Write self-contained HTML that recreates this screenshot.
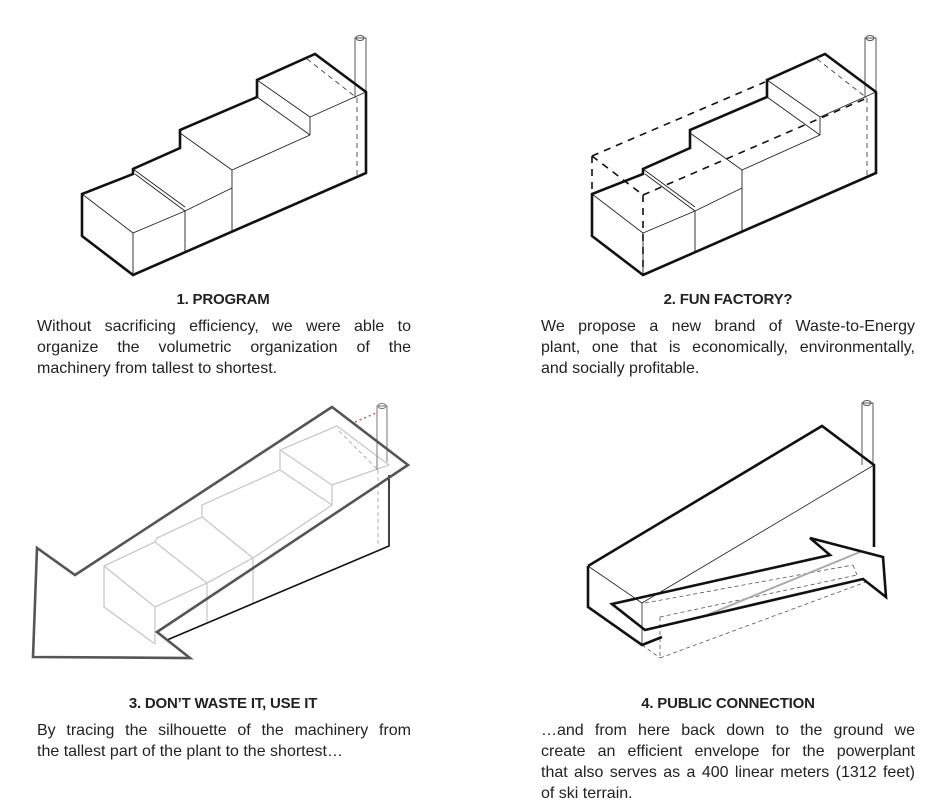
<!DOCTYPE html>
<html><head><meta charset="utf-8"><style>
body{margin:0;width:933px;height:804px;background:#fff;position:relative;overflow:hidden;font-family:"Liberation Sans",sans-serif;color:#222}
svg{position:absolute;left:0;top:0}
.t{position:absolute;font-weight:bold;font-size:15px;text-align:center;width:374px;letter-spacing:-0.2px}
.p{position:absolute;font-size:16px;line-height:21px;width:374px}
.p div{text-align:justify;text-align-last:justify;white-space:nowrap}
.p div.l{text-align-last:left}
</style></head><body>
<svg width="933" height="804" viewBox="0 0 933 804" fill="none" stroke-linejoin="miter">
<g id="b1">
<polyline points="355,98 355,38 366,38 366,92" stroke="#555" stroke-width="1"/>
<ellipse cx="360" cy="38" rx="4" ry="2.5" stroke="#555" stroke-width="1"/>
<g stroke="#222" stroke-width="0.9">
<polyline points="82,194 133,233 185,211 232,188"/>
<line x1="133" y1="233" x2="133" y2="275"/>
<line x1="133" y1="169" x2="185" y2="207"/>
<line x1="135" y1="174" x2="185" y2="211"/>
<line x1="185" y1="211" x2="185" y2="252"/>
<line x1="180" y1="133" x2="232" y2="170"/>
<line x1="232" y1="170" x2="232" y2="233"/>
<line x1="232" y1="170" x2="310" y2="135"/>
<line x1="257" y1="97" x2="310" y2="135"/>
<line x1="310" y1="135" x2="310" y2="117"/>
<line x1="310" y1="117" x2="366" y2="92"/>
<line x1="257" y1="80" x2="310" y2="117"/>
</g>
<g stroke="#444" stroke-width="0.9" stroke-dasharray="5,4">
<line x1="307" y1="59" x2="357" y2="98"/>
<line x1="357" y1="98" x2="357" y2="176"/>
</g>
<polygon points="82,194 82,236 133,275 366,173 366,92 315,54 257,80 257,97 180,130 180,148 133,169 133,174" stroke="#111" stroke-width="2.6"/>
</g>
<g transform="translate(510,0)"><use href="#b1"/></g>
<g stroke="#111" stroke-width="1.6" stroke-dasharray="7,6">
<line x1="592" y1="156" x2="765" y2="82"/>
<line x1="592" y1="156" x2="592" y2="194"/>
<line x1="592" y1="156" x2="643" y2="195"/>
<line x1="643" y1="195" x2="643" y2="275"/>
<line x1="643" y1="195" x2="867" y2="98"/>
</g>
<g stroke="#c8c8c8" stroke-width="1.3">
<polyline points="104,566 155,542 157,538 202,517 202,505 280,470 280,450 337,426 389,465"/>
<polyline points="104,566 104,607 155,644"/>
<polyline points="104,566 155,607 207,583 253,558 332,505 332,485 389,465"/>
<line x1="155" y1="607" x2="155" y2="644"/>
<line x1="207" y1="583" x2="207" y2="622"/>
<line x1="253" y1="558" x2="253" y2="603"/>
<line x1="155" y1="542" x2="207" y2="583"/>
<line x1="202" y1="517" x2="253" y2="558"/>
<line x1="280" y1="470" x2="332" y2="505"/>
<line x1="280" y1="450" x2="332" y2="485"/>
</g>
<g stroke="#aaa" stroke-width="0.9" stroke-dasharray="4,3"><line x1="339" y1="431" x2="378" y2="470"/><line x1="378" y1="470" x2="378" y2="546"/></g>
<polyline points="377,470 377,406 387,406 387,462" stroke="#777" stroke-width="1"/>
<ellipse cx="382" cy="406" rx="4" ry="2.5" stroke="#777"/>
<line x1="355" y1="422" x2="376" y2="413" stroke="#e05040" stroke-width="1.5" stroke-dasharray="2,3"/>
<polyline points="389,475 389,546 167,640" stroke="#111" stroke-width="1.6"/>
<polygon points="332,407 408,465 157,632 190,658 33,657 37,548 75,575" stroke="#555" stroke-width="2.6"/>
<polyline points="862,465 862,403 873,403 873,465" stroke="#555" stroke-width="1"/>
<ellipse cx="867" cy="403" rx="4" ry="2.5" stroke="#555"/>
<g stroke="#222" stroke-width="0.8">
<line x1="588" y1="566" x2="642" y2="603"/>
<line x1="642" y1="603" x2="642" y2="645"/>
<line x1="642" y1="603" x2="874" y2="465"/>
</g>
<g stroke="#555" stroke-width="0.8" stroke-dasharray="4,3">
<line x1="645" y1="603" x2="853" y2="565"/>
<line x1="660" y1="617" x2="857" y2="575"/>
<line x1="660" y1="617" x2="660" y2="658"/>
<line x1="642" y1="645" x2="660" y2="658"/>
<line x1="660" y1="658" x2="866" y2="582"/>
<line x1="853" y1="565" x2="857" y2="575"/>
</g>
<line x1="707" y1="615" x2="860" y2="552" stroke="#aaa" stroke-width="2"/>
<polyline points="588,566 822,426 874,465 874,547" stroke="#111" stroke-width="2.6"/>
<polyline points="588,566 588,607 642,645 662,637" stroke="#111" stroke-width="2.6"/>
<polygon points="612,604 830,555 810,538 883,557 886,597 863,579 645,630" stroke="#111" stroke-width="2.6"/>
</svg>
<div class="t" style="left:36px;top:291px">1. PROGRAM</div>
<div class="p" style="left:37px;top:316px"><div>Without sacrificing efficiency, we were able to</div><div>organize the volumetric organization of the</div><div class="l">machinery from tallest to shortest.</div></div>
<div class="t" style="left:541px;top:291px">2. FUN FACTORY?</div>
<div class="p" style="left:541px;top:316px"><div>We propose a new brand of Waste-to-Energy</div><div>plant, one that is economically, environmentally,</div><div class="l">and socially profitable.</div></div>
<div class="t" style="left:36px;top:695px">3. DON’T WASTE IT, USE IT</div>
<div class="p" style="left:37px;top:720px"><div>By tracing the silhouette of the machinery from</div><div class="l">the tallest part of the plant to the shortest…</div></div>
<div class="t" style="left:541px;top:695px">4. PUBLIC CONNECTION</div>
<div class="p" style="left:541px;top:720px"><div>…and from here back down to the ground we</div><div>create an efficient envelope for the powerplant</div><div>that also serves as a 400 linear meters (1312 feet)</div><div class="l">of ski terrain.</div></div>
</body></html>
